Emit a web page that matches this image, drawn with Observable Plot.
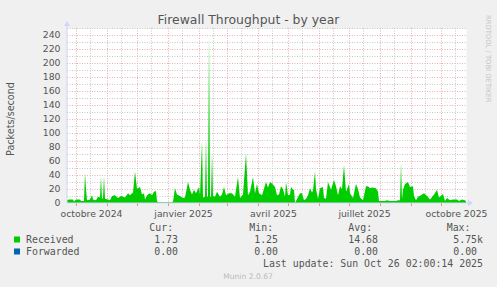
<!DOCTYPE html>
<html><head><meta charset="utf-8">
<script src="https://cdn.jsdelivr.net/npm/d3@7"></script>
<script src="https://cdn.jsdelivr.net/npm/@observablehq/plot@0.6"></script>
<style>
body{margin:0;background:#f0f0f0;}
</style>
</head><body><div id="chart"></div>
<script>
// ---- data ----
const dates = [
"2024-09-22","2024-09-24","2024-09-28","2024-09-29","2024-10-01","2024-10-05","2024-10-06","2024-10-09","2024-10-10","2024-10-11",
"2024-10-12","2024-10-15","2024-10-17","2024-10-18","2024-10-21","2024-10-23","2024-10-25","2024-10-26","2024-10-27","2024-10-28",
"2024-10-29","2024-10-30","2024-11-02","2024-11-04","2024-11-06","2024-11-09","2024-11-12","2024-11-15","2024-11-19","2024-11-22",
"2024-11-24","2024-11-27","2024-11-29","2024-12-01","2024-12-04","2024-12-06","2024-12-08","2024-12-09","2024-12-11","2024-12-14",
"2024-12-16","2024-12-18","2024-12-20","2024-12-21","2024-12-22","2025-01-05","2025-01-06","2025-01-08","2025-01-10","2025-01-13",
"2025-01-16","2025-01-18","2025-01-21","2025-01-23","2025-01-25","2025-01-27","2025-01-29","2025-02-01","2025-02-02","2025-02-04",
"2025-02-05","2025-02-07","2025-02-08","2025-02-09","2025-02-10","2025-02-11","2025-02-12","2025-02-13","2025-02-14","2025-02-15",
"2025-02-17","2025-02-19","2025-02-22","2025-02-24","2025-02-26","2025-02-28","2025-03-03","2025-03-06","2025-03-09","2025-03-12",
"2025-03-14","2025-03-17","2025-03-20","2025-03-22","2025-03-24","2025-03-27","2025-03-29","2025-03-31","2025-04-02","2025-04-05",
"2025-04-09","2025-04-11","2025-04-13","2025-04-15","2025-04-18","2025-04-20","2025-04-22","2025-04-24","2025-04-26","2025-04-28",
"2025-04-29","2025-05-01","2025-05-03","2025-05-04","2025-05-06","2025-05-07","2025-05-08","2025-05-13","2025-05-15","2025-05-17",
"2025-05-19","2025-05-21","2025-05-23","2025-05-25","2025-05-26","2025-05-28","2025-05-29","2025-05-31","2025-06-02","2025-06-05",
"2025-06-06","2025-06-08","2025-06-10","2025-06-13","2025-06-16","2025-06-18","2025-06-20","2025-06-22","2025-06-24","2025-06-26",
"2025-06-28","2025-07-01","2025-07-02","2025-07-05","2025-07-08","2025-07-10","2025-07-12","2025-07-15","2025-07-18","2025-07-20",
"2025-07-22","2025-07-24","2025-07-28","2025-07-30","2025-07-31","2025-08-06","2025-08-08","2025-08-11","2025-08-17","2025-08-19",
"2025-08-21","2025-08-22","2025-08-23","2025-08-24","2025-08-26","2025-08-29","2025-08-31","2025-09-03","2025-09-04","2025-09-06",
"2025-09-08","2025-09-11","2025-09-14","2025-09-17","2025-09-20","2025-09-24","2025-09-27","2025-09-29","2025-10-03","2025-10-05",
"2025-10-07","2025-10-10","2025-10-13","2025-10-17","2025-10-19","2025-10-22","2025-10-25","2025-10-26"
];
const received = [
4,5,5,2,5,5,3,3,43,20,
4,5,11,5,4,9,8,38,6,7,
38,6,5,4,10,11,7,10,8,14,
11,15,45,20,23,12,14,5,11,14,
11,16,17,3,1,1,2,21,12,10,
7,8,30,19,12,19,14,23,11,88,
8,9,93,8,10,240,10,8,71,10,
9,16,9,12,23,11,14,14,9,37,
7,12,71,11,16,37,14,27,14,11,
30,22,30,28,23,11,12,24,20,9,
30,11,12,23,19,19,null,14,14,4,
6,11,21,15,18,45,20,6,21,23,
7,6,30,19,33,24,11,24,20,54,
16,27,14,7,27,20,8,4,24,24,
21,22,21,16,3,3,4,3,3,4,
4,57,5,19,27,30,23,24,10,4,
9,11,14,10,5,12,19,8,13,3,
7,4,5,5,3,5,4,2
];
const xDomain = ["2024-09-22","2025-10-26"];
const yDomain = [0, 250];
const tickDates = ["2024-10-16","2025-01-16","2025-04-16","2025-07-16","2025-10-16"];
const tickLabels = ["octobre 2024","janvier 2025","avril 2025","juillet 2025","octobre 2025"];
const yTicks = [0,20,40,60,80,100,120,140,160,180,200,220,240];
const seriesNames = ["Received","Forwarded"];
const seriesColors = ["#00cc00","#0066b3"];
const curVals = ["1.73","0.00"];
const minVals = ["1.25","0.00"];
const avgVals = ["14.68","0.00"];
const maxVals = ["5.75k","0.00 "];
const title = "Firewall Throughput - by year";
const yTitle = "Packets/second";
const lastUpdate = "Last update: Sun Oct 26 02:00:14 2025";
const version = "Munin 2.0.67";
const watermark = "RRDTOOL / TOBI OETIKER";

// ---- build ----
const data = dates.map((d, i) => ({date: new Date(d), value: received[i]}));
const monthStarts = d3.utcMonths(new Date("2024-10-01"), new Date("2025-10-02"));
const midMonths = d3.utcMonths(new Date("2024-09-01"), new Date("2025-10-02")).map(d => d3.utcDay.offset(d, 14));
const labelMap = new Map(tickDates.map((d, i) => [+new Date(d), tickLabels[i]]));
const minorY = d3.range(10, 251, 20);
const majorY = d3.range(20, 241, 20);

const chart = Plot.plot({
  width: 497, height: 287,
  marginLeft: 67, marginRight: 31, marginTop: 28, marginBottom: 84,
  style: {background: "#f0f0f0", fontFamily: "DejaVu Sans", fontSize: "9.3px", color: "#666", overflow: "visible"},
  x: {type: "utc", domain: xDomain.map(d => new Date(d))},
  y: {domain: yDomain},
  marks: [
    Plot.frame({fill: "#ffffff", stroke: "none"}),
    Plot.ruleY(minorY, {stroke: "#c8c8c8", strokeDasharray: "1,1.5"}),
    Plot.ruleX(midMonths.filter(d => d > new Date(xDomain[0]) && d < new Date(xDomain[1])), {stroke: "#c8c8c8", strokeDasharray: "1,1.5"}),
    Plot.ruleY(majorY, {stroke: "#e8b0b0", strokeDasharray: "1,1.5"}),
    Plot.ruleX(monthStarts, {stroke: "#e8b0b0", strokeDasharray: "1,1.5"}),
    Plot.areaY(data, {x: "date", y: "value", fill: "#00cc00", curve: "linear"}),
    Plot.axisX(monthStarts, {tickSize: 3, stroke: "#e59090", tickFormat: () => "", label: null}),
    Plot.axisX(tickDates.map(d => new Date(d)), {tickSize: 0, tickPadding: 7, tickFormat: d => labelMap.get(+d), label: null, fill: "#555", fontSize: 9.3}),
    Plot.axisY(yTicks, {tickSize: 0, tickPadding: 7, label: null, fill: "#555", fontSize: 9.3})
  ]
});
document.getElementById("chart").appendChild(chart);

const xs = chart.scale("x"), ys = chart.scale("y");
const svg = d3.select(chart);
const x0 = xs.apply(new Date(xDomain[0])), x1 = xs.apply(new Date(xDomain[1]));
const y0 = ys.apply(0), yTop = ys.apply(yDomain[1]);
const axisCol = "#cfd6f8";
// axis lines + arrows
svg.append("line").attr("x1", x0).attr("x2", x1 + 3).attr("y1", y0).attr("y2", y0).attr("stroke", axisCol);
svg.append("path").attr("d", `M${x1+2},${y0-3}L${x1+7},${y0}L${x1+2},${y0+3}Z`).attr("fill", axisCol);
svg.append("line").attr("x1", x0).attr("x2", x0).attr("y1", y0).attr("y2", yTop - 3).attr("stroke", axisCol);
svg.append("path").attr("d", `M${x0-3},${yTop-2}L${x0},${yTop-7}L${x0+3},${yTop-2}Z`).attr("fill", axisCol);

function t(x, y, s, o = {}) {
  const e = svg.append("text").attr("x", x).attr("y", y).text(s)
    .attr("fill", o.fill || "#555")
    .style("font-size", (o.size || 9.9) + "px")
    .style("font-family", o.font || "'DejaVu Sans Mono'")
    .attr("text-anchor", o.anchor || "start").style("white-space", "pre");
  if (o.transform) e.attr("transform", o.transform);
  return e;
}
t(248.5, 24, title, {font: "'DejaVu Sans'", size: 12.4, anchor: "middle", fill: "#555"});
t(0, 0, yTitle, {font: "'DejaVu Sans'", size: 9.6, anchor: "middle", transform: "translate(13.5,119) rotate(-90)"});
t(0, 0, watermark, {font: "'DejaVu Sans'", size: 6.8, fill: "#c4c4c4", transform: "translate(486,15) rotate(90)"});

t(149.3, 231, "Cur:"); t(249.3, 231, "Min:"); t(348.3, 231, "Avg:"); t(446.7, 231, "Max:");
seriesNames.forEach((n, i) => {
  const by = 243 + i * 12;
  svg.append("rect").attr("x", 14).attr("y", by - 6.5).attr("width", 6).attr("height", 6).attr("fill", seriesColors[i]);
  t(26, by, n);
  t(178, by, curVals[i], {anchor: "end"});
  t(278, by, minVals[i], {anchor: "end"});
  t(378, by, avgVals[i], {anchor: "end"});
  t(483, by, maxVals[i], {anchor: "end"});
});
t(483, 267, lastUpdate, {anchor: "end"});
t(248, 279, version, {font: "'DejaVu Sans'", size: 7.6, fill: "#bbbbbb", anchor: "middle"});
</script>
</body></html>
